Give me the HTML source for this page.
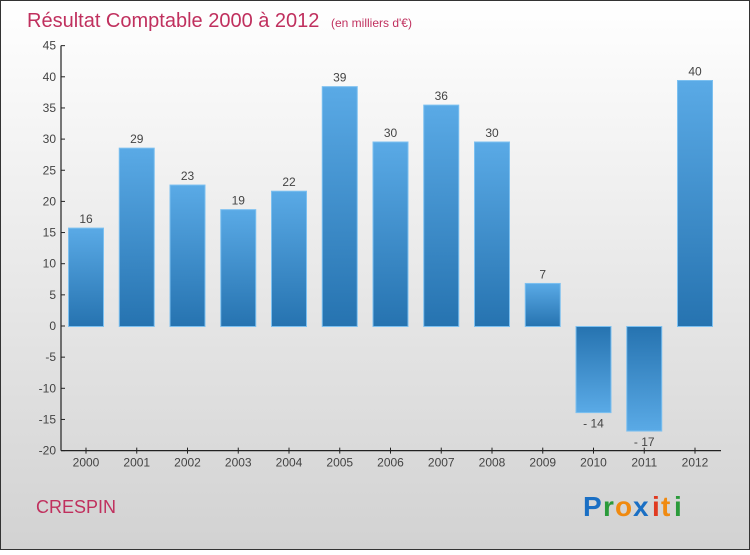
<!DOCTYPE html>
<html><head><meta charset="utf-8"><style>
html,body{margin:0;padding:0}
body{width:750px;height:550px;overflow:hidden;font-family:"Liberation Sans",sans-serif}
</style></head><body>
<svg width="750" height="550" xmlns="http://www.w3.org/2000/svg">
<defs>
<linearGradient id="bg" x1="0" y1="0" x2="0" y2="1"><stop offset="0" stop-color="#ffffff"/><stop offset="1" stop-color="#d2d2d2"/></linearGradient>
<linearGradient id="pos" x1="0" y1="0" x2="0" y2="1"><stop offset="0" stop-color="#5aaae6"/><stop offset="1" stop-color="#2673b0"/></linearGradient>
<linearGradient id="neg" x1="0" y1="0" x2="0" y2="1"><stop offset="0" stop-color="#2673b0"/><stop offset="1" stop-color="#5aaae6"/></linearGradient>
</defs>
<rect x="0.5" y="0.5" width="749" height="549" fill="url(#bg)" stroke="#333"/>
<text x="27" y="27" font-size="20" fill="#c0305e">Résultat Comptable 2000 à 2012 <tspan font-size="12" dx="6">(en milliers d'€)</tspan></text>
<g id="yaxis"></g>
<g id="bars"></g>
<g id="xaxis"></g>
<text x="36" y="513" font-size="18" fill="#c0305e">CRESPIN</text>
<g font-size="28" font-weight="bold">
<text x="583" y="516" fill="#1a6fc4">P</text><text x="603" y="516" fill="#2a9a3a">r</text><text x="615" y="516" fill="#f08a10">o</text><text x="633" y="516" fill="#1a6fc4">x</text><text x="652" y="516" fill="#e03a20">i</text><text x="661" y="516" fill="#f08a10">t</text><text x="674" y="516" fill="#2a9a3a">i</text>
</g>
</svg>
<script>
const categories=["2000","2001","2002","2003","2004","2005","2006","2007","2008","2009","2010","2011","2012"];
const values=[16,29,23,19,22,39,30,36,30,7,-14,-17,40];
const yTicks=[45,40,35,30,25,20,15,10,5,0,-5,-10,-15,-20];
const NS="http://www.w3.org/2000/svg";
function y(v){return 326-v*6.23;}
function yb(v){return 326.5-v*6.15;}
function x(i){return 86+i*50.75;}
function mk(tag,attrs,parent,text){const e=document.createElementNS(NS,tag);for(const k in attrs)e.setAttribute(k,attrs[k]);if(text!==undefined)e.textContent=text;parent.appendChild(e);return e;}
const ya=document.getElementById('yaxis'),xa=document.getElementById('xaxis'),bg=document.getElementById('bars');
mk('line',{x1:61,y1:y(45),x2:61,y2:y(-20),stroke:'#222','stroke-width':1.2},ya);
yTicks.forEach(t=>{
  mk('line',{x1:61,y1:y(t),x2:65,y2:y(t),stroke:'#222'},ya);
  const l=mk('text',{x:56,y:y(t)+4,'font-size':12,fill:'#444','text-anchor':'end'},ya,String(t));
  
  
});
mk('line',{x1:61,y1:y(-20),x2:721,y2:y(-20),stroke:'#222','stroke-width':1.2},xa);
categories.forEach((c,i)=>{
  mk('line',{x1:x(i),y1:y(-20)-3,x2:x(i),y2:y(-20)+3,stroke:'#222'},xa);
  const l=mk('text',{x:x(i),y:y(-20)+16,'font-size':12,fill:'#444','text-anchor':'middle'},xa,c);
  
  
  const v=values[i],top=Math.min(yb(v),yb(0)),h=Math.abs(yb(v)-yb(0));
  const r=mk('rect',{x:x(i)-17.5,y:top,width:35,height:h,fill:v>=0?'url(#pos)':'url(#neg)',stroke:'#7cc0f0','stroke-width':1},bg);
  
  
  const ly=v>=0?yb(v)-5:yb(v)+15;
  const vl=mk('text',{x:x(i),y:ly,'font-size':12,fill:'#444','text-anchor':'middle'},bg,v<0?'- '+Math.abs(v):String(v));
  
  
});
</script>
</body></html>
